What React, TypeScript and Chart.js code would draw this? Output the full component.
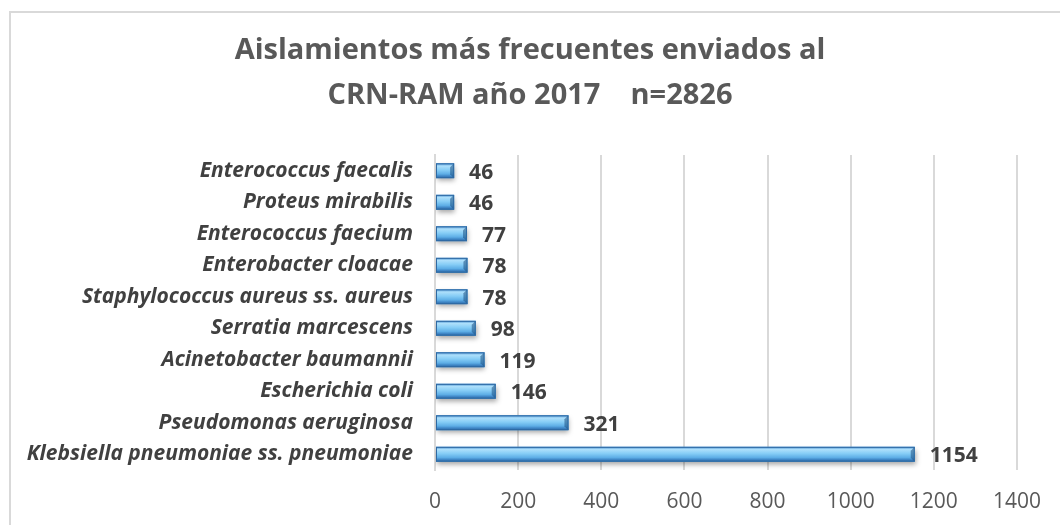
import React, { useEffect, useRef } from "react";
import { Chart, registerables } from "chart.js";

Chart.register(...registerables);

const categories = [
  "Enterococcus faecalis",
  "Proteus mirabilis",
  "Enterococcus faecium",
  "Enterobacter cloacae",
  "Staphylococcus aureus ss. aureus",
  "Serratia marcescens",
  "Acinetobacter baumannii",
  "Escherichia coli",
  "Pseudomonas aeruginosa",
  "Klebsiella pneumoniae ss. pneumoniae",
];
const counts = [46, 46, 77, 78, 78, 98, 119, 146, 321, 1154];
const titleLines = ["Aislamientos más frecuentes enviados al", "CRN-RAM año 2017    n=2826"];
const xMax = 1400;
const xStep = 200;

const FONT = "'Open Sans', sans-serif";

const titlePlugin = {
  id: "centeredTitle",
  afterDraw(chart: any) {
    const ctx = chart.ctx;
    ctx.save();
    ctx.font = `bold 29px ${FONT}`;
    ctx.fillStyle = "#595959";
    ctx.textAlign = "center";
    ctx.textBaseline = "middle";
    titleLines.forEach((line, i) => {
      ctx.fillText(line, chart.width / 2, 51 + i * 45);
    });
    ctx.restore();
  },
};

const barStylePlugin = {
  id: "barStyle",
  beforeDatasetDraw(chart: any) {
    const ctx = chart.ctx;
    ctx.save();
    ctx.shadowColor = "rgba(0,0,0,0.35)";
    ctx.shadowBlur = 5;
    ctx.shadowOffsetY = 3;
    ctx.shadowOffsetX = 1;
  },
  afterDatasetDraw(chart: any) {
    chart.ctx.restore();
  },
  afterDatasetsDraw(chart: any) {
    const ctx = chart.ctx;
    const meta = chart.getDatasetMeta(0);
    meta.data.forEach((bar: any, i: number) => {
      const { x, y, base, height } = bar.getProps(["x", "y", "base", "height"], true);
      const top = y - height / 2;
      const left = base;
      const w = x - base;
      const g = ctx.createLinearGradient(0, top, 0, top + height);
      g.addColorStop(0, "#4a90cf");
      g.addColorStop(0.18, "#addffb");
      g.addColorStop(0.45, "#86cdf6");
      g.addColorStop(0.72, "#5eaee6");
      g.addColorStop(0.86, "#3f86c6");
      g.addColorStop(1, "#2c6aa6");
      ctx.save();
      ctx.fillStyle = g;
      ctx.fillRect(left, top, w, height);
      const bev = Math.min(4, w / 3);
      ctx.fillStyle = "rgba(30,80,130,0.55)";
      ctx.beginPath();
      ctx.moveTo(x, top);
      ctx.lineTo(x, top + height);
      ctx.lineTo(x - bev, top + height - bev);
      ctx.lineTo(x - bev, top + bev);
      ctx.closePath();
      ctx.fill();
      ctx.strokeStyle = "#2f6aa3";
      ctx.lineWidth = 1;
      ctx.strokeRect(left + 0.5, top + 0.5, w - 1, height - 1);
      ctx.restore();

      ctx.save();
      ctx.font = `bold 21px ${FONT}`;
      ctx.fillStyle = "#404040";
      ctx.textAlign = "left";
      ctx.textBaseline = "middle";
      ctx.fillText(String(counts[i]), x + 15, y + 2);
      ctx.restore();
    });
  },
};

export default function App() {
  const ref = useRef<HTMLCanvasElement | null>(null);
  useEffect(() => {
    if (!ref.current) return;
    const chart = new Chart(ref.current, {
      type: "bar",
      data: {
        labels: categories,
        datasets: [
          {
            data: counts,
            backgroundColor: "#5eaee6",
            borderWidth: 0,
            barPercentage: 0.47,
            categoryPercentage: 1,
          },
        ],
      },
      options: {
        indexAxis: "y",
        animation: false,
        responsive: false,
        maintainAspectRatio: false,
        layout: { padding: { left: 0, right: 42, top: 155, bottom: 0 } },
        plugins: {
          legend: { display: false },
          tooltip: { enabled: false },
          title: { display: false },
        },
        scales: {
          x: {
            min: 0,
            max: xMax,
            ticks: {
              stepSize: xStep,
              color: "#595959",
              font: { family: FONT, size: 21 },
              padding: 19,
              callback: (v: any) => String(v),
            },
            grid: { color: "#d9d9d9", lineWidth: 2, drawTicks: false },
            border: { display: false },
            afterFit(scale: any) {
              scale.height = 55;
            },
          },
          y: {
            ticks: {
              color: "#404040",
              font: { family: FONT, size: 21, weight: "bold", style: "italic" },
              padding: 22,
            },
            grid: { display: false, drawTicks: false },
            border: { display: true, color: "#d9d9d9", width: 2 },
            afterFit(scale: any) {
              scale.width = 435;
            },
          },
        },
      },
      plugins: [barStylePlugin, titlePlugin],
    });
    return () => chart.destroy();
  }, []);

  return (
    <div style={{ position: "fixed", left: 0, top: 0, width: 1060, height: 525, background: "#fff" }}>
      <div
        style={{
          position: "absolute",
          left: 9,
          top: 11,
          width: 1100,
          height: 600,
          borderLeft: "2px solid #d9d9d9",
          borderTop: "2px solid #d9d9d9",
          boxSizing: "border-box",
        }}
      />
      <canvas ref={ref} width={1060} height={525} style={{ position: "absolute", left: 0, top: 0 }} />
    </div>
  );
}
